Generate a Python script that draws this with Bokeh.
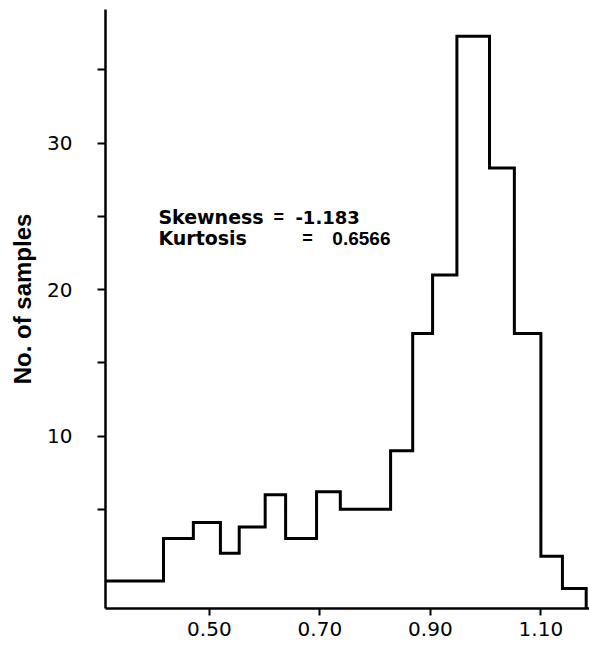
import numpy as np
from bokeh.plotting import figure
from bokeh.models import Range1d, FixedTicker, NumeralTickFormatter, ColumnDataSource
from bokeh.core.properties import value
from bokeh.embed import file_html
from bokeh.resources import INLINE

# Bin edges (ratio) and counts
bin_edges = [0.312, 0.417, 0.471, 0.520, 0.554, 0.601, 0.638, 0.694, 0.737,
             0.828, 0.868, 0.904, 0.948, 1.007, 1.052, 1.100, 1.139, 1.182]
counts = [0.1, 3.0, 4.1, 2.0, 3.8, 6.0, 3.0, 6.2, 5.0,
          9.0, 17.0, 21.0, 37.3, 28.3, 17.0, 1.8, -0.4]

x_ticks = [0.50, 0.70, 0.90, 1.10]
y_ticks = [10, 20, 30]
y_minor_ticks = [5, 15, 25, 35]

ann_words = ["Skewness", "=", "-1.183", "Kurtosis", "=", "0.6566"]

x_lo, x_hi = 0.312, 1.188
y_lo, y_hi = -1.77, 39.12

p = figure(width=589, height=652, output_backend="svg", toolbar_location=None,
           x_range=Range1d(x_lo, x_hi), y_range=Range1d(y_lo, y_hi),
           min_border_left=105, min_border_right=0, min_border_top=9,
           min_border_bottom=44)
p.outline_line_color = None
p.xgrid.visible = False
p.ygrid.visible = False
p.background_fill_color = "white"
p.border_fill_color = "white"

# step outline of the histogram
xs = []
ys = []
for i, c in enumerate(counts):
    xs += [bin_edges[i], bin_edges[i + 1]]
    ys += [c, c]
xs.append(bin_edges[-1])
ys.append(y_lo)
p.line(xs, ys, line_color="black", line_width=3, line_join="miter")

# axes styling
xa = p.xaxis[0]
xa.ticker = FixedTicker(ticks=x_ticks)
xa.formatter = NumeralTickFormatter(format="0.00")
xa.axis_line_width = 2.5
xa.axis_line_color = "black"
xa.major_tick_in = 0
xa.major_tick_out = 7
xa.major_tick_line_width = 2
xa.minor_tick_line_color = None
xa.major_label_text_font = "DejaVu Sans"
xa.major_label_text_font_size = "20px"
xa.major_label_text_color = "black"
xa.major_label_standoff = 6

ya = p.yaxis[0]
ya.ticker = FixedTicker(ticks=y_ticks, minor_ticks=y_minor_ticks)
ya.axis_line_width = 2.5
ya.axis_line_color = "black"
ya.major_tick_in = 0
ya.major_tick_out = 8
ya.minor_tick_in = 0
ya.minor_tick_out = 8
ya.major_tick_line_width = 2
ya.minor_tick_line_width = 2
ya.minor_tick_line_color = "black"
ya.major_label_text_font = "DejaVu Sans"
ya.major_label_text_font_size = "20px"
ya.major_label_text_color = "black"
ya.major_label_standoff = 25
ya.axis_label = "\u00a0\u00a0\u00a0No. of samples"
ya.axis_label_text_font = "Liberation Sans"
ya.axis_label_text_font_style = "bold"
ya.axis_label_text_font_size = "24px"
ya.axis_label_text_color = "black"
ya.axis_label_standoff = 8

# annotation text
ann = ColumnDataSource(dict(
    x=[0.4077, 0.616, 0.6557, 0.4077, 0.6683, 0.7226],
    y=[24.94, 24.94, 24.94, 23.5, 23.5, 23.5],
    text=ann_words,
    font=["DejaVu Sans", "Liberation Sans", "DejaVu Sans",
          "DejaVu Sans", "Liberation Sans", "Liberation Sans"],
    size=["19px", "18px", "18px", "19px", "18px", "19px"],
))
p.text(x="x", y="y", text="text", source=ann, text_font="font",
       text_font_style="bold", text_font_size="size", text_color="black",
       text_baseline="alphabetic", text_align="left")

open("out.html", "w").write(file_html(p, INLINE))
